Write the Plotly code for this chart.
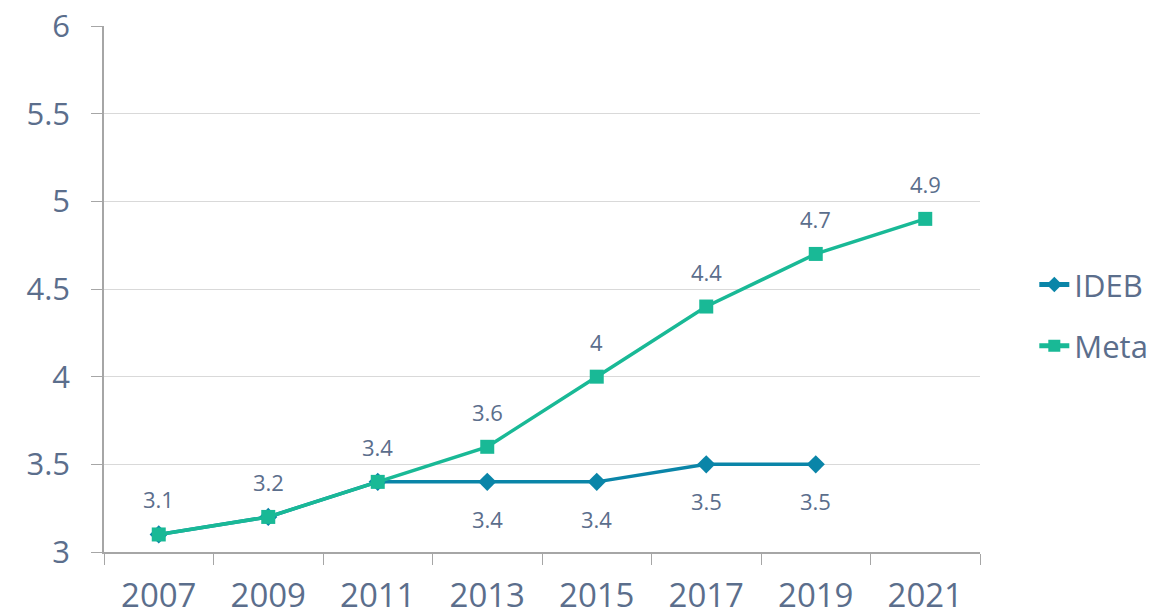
import plotly.graph_objects as go

years = ["2007", "2009", "2011", "2013", "2015", "2017", "2019", "2021"]
ideb_years = ["2007", "2009", "2011", "2013", "2015", "2017", "2019"]
ideb = [3.1, 3.2, 3.4, 3.4, 3.4, 3.5, 3.5]
meta = [3.1, 3.2, 3.4, 3.6, 4.0, 4.4, 4.7, 4.9]
ideb_label_above = [True, True, True, False, False, False, False]
y_ticks = [3, 3.5, 4, 4.5, 5, 5.5, 6]
y_tick_labels = ["3", "3.5", "4", "4.5", "5", "5.5", "6"]

C_IDEB = "#0a85a8"
C_META = "#19b996"
TXT = "#5b6e8c"
FONT = "Open Sans"

fig = go.Figure()
fig.add_trace(go.Scatter(
    x=ideb_years, y=ideb, name="IDEB", mode="lines+markers", legendgroup="a",
    line=dict(color=C_IDEB, width=3.5),
    marker=dict(symbol="diamond", size=14, color=C_IDEB),
))
fig.add_trace(go.Scatter(
    x=years, y=meta, name="Meta", mode="lines+markers", legendgroup="b",
    line=dict(color=C_META, width=3.5),
    marker=dict(symbol="square", size=14, color=C_META),
))

def fmt(v):
    return "%g" % v

annotations = []
for x, v in zip(years, meta):
    annotations.append(dict(x=years.index(x), y=v, xref="x", yref="y", text=fmt(v),
                            showarrow=False, yshift=35,
                            font=dict(family=FONT, size=22, color=TXT)))
for x, v, above in zip(ideb_years, ideb, ideb_label_above):
    if above:
        continue
    annotations.append(dict(x=years.index(x), y=v, xref="x", yref="y", text=fmt(v),
                            showarrow=False, yshift=-37,
                            font=dict(family=FONT, size=22, color=TXT)))

fig.update_layout(
    width=1166, height=614,
    margin=dict(l=96, r=194, t=18, b=70, autoexpand=False),
    paper_bgcolor="white", plot_bgcolor="white",
    font=dict(family=FONT, color=TXT),
    annotations=annotations,
    legend=dict(x=1.062, y=0.45, xanchor="left", yanchor="middle",
                font=dict(family=FONT, size=31, color=TXT),
                tracegroupgap=18, itemsizing="constant"),
    xaxis=dict(type="category", categoryorder="array", categoryarray=years,
               tickson="boundaries", ticks="outside", ticklen=11, tickcolor="#a6a6a6",
               showline=True, linecolor="#a6a6a6", linewidth=1.5, showgrid=False,
               automargin=False, ticklabelstandoff=14,
               tickfont=dict(family=FONT, size=33, color=TXT), range=[-0.5, 7.5]),
    yaxis=dict(range=[3, 6], tickmode="array", tickvals=y_ticks, ticktext=y_tick_labels,
               ticks="outside", ticklen=11, tickcolor="#a6a6a6",
               showline=True, linecolor="#a6a6a6", linewidth=1.5, automargin=False,
               ticklabelstandoff=15, ticklabeloverflow="allow",
               showgrid=True, gridcolor="#d9d9d9", gridwidth=1, zeroline=False,
               tickfont=dict(family=FONT, size=31, color=TXT)),
)

fig.write_html("out.html")
